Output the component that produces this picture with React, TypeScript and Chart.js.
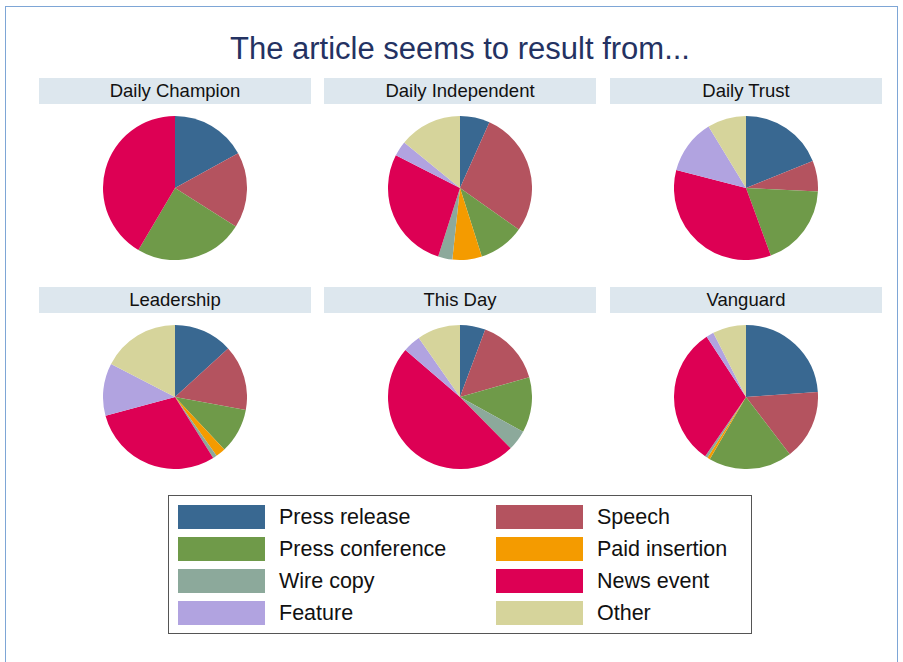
import React, { useEffect, useRef } from "react";
import { Chart, registerables } from "chart.js";

Chart.register(...registerables);

const title = "The article seems to result from...";
const sources = [
  "Press release",
  "Speech",
  "Press conference",
  "Paid insertion",
  "Wire copy",
  "News event",
  "Feature",
  "Other",
];
const sourceColors = [
  "#396891",
  "#b4535f",
  "#6f9a49",
  "#f49b00",
  "#8ca99b",
  "#dd0054",
  "#b1a3e0",
  "#d6d49b",
];
const papers = ["Daily Champion", "Daily Independent", "Daily Trust", "Leadership", "This Day", "Vanguard"];

// shares (%) in source order
const dailyChampion = [17, 17, 24.5, 0, 0, 41.5, 0, 0];
const dailyIndependent = [6.7, 28.1, 10.3, 6.6, 3.2, 27.6, 3.4, 14.1];
const dailyTrust = [18.9, 6.9, 18.6, 0, 0, 34.6, 12.3, 8.7];
const leadership = [13.2, 14.7, 10.1, 2.2, 0.9, 29.7, 11.8, 17.4];
const thisDay = [5.7, 14.9, 12.4, 0, 4.6, 48.7, 4.0, 9.7];
const vanguard = [23.9, 15.7, 18.8, 0.6, 0.6, 31.2, 1.7, 7.5];

const paperValues = [dailyChampion, dailyIndependent, dailyTrust, leadership, thisDay, vanguard];

const FONT = '"Liberation Sans", Arial, Helvetica, sans-serif';
const R = 72;
const colCenters = [175, 460, 746];
const barLefts = [39, 324, 610];
const barWidth = 272;
const barTops = [78, 287];
const rowCenters = [188, 397];

function Pie({ values, cx, cy }: { values: number[]; cx: number; cy: number }) {
  const ref = useRef<HTMLCanvasElement | null>(null);
  useEffect(() => {
    if (!ref.current) return;
    const chart = new Chart(ref.current, {
      type: "pie",
      data: {
        labels: sources,
        datasets: [
          {
            data: values,
            backgroundColor: sourceColors,
            borderWidth: 0,
          },
        ],
      },
      options: {
        responsive: false,
        maintainAspectRatio: false,
        animation: false,
        devicePixelRatio: 1,
        layout: { padding: 0 },
        plugins: { legend: { display: false }, tooltip: { enabled: false }, title: { display: false } },
      },
    });
    return () => chart.destroy();
  }, [values]);
  const size = R * 2;
  return (
    <canvas
      ref={ref}
      width={size}
      height={size}
      style={{ position: "absolute", left: cx - R, top: cy - R, width: size, height: size }}
    />
  );
}

export default function App() {
  const legendRows = [0, 1, 2, 3];
  return (
    <div
      style={{
        position: "absolute",
        left: 0,
        top: 0,
        width: 903,
        height: 662,
        background: "#ffffff",
        overflow: "hidden",
        fontFamily: FONT,
      }}
    >
      <div
        style={{
          position: "absolute",
          left: 5,
          top: 6,
          width: 893,
          height: 700,
          border: "1.5px solid #7ea6d6",
          boxSizing: "border-box",
        }}
      />
      <div
        style={{
          position: "absolute",
          left: 0,
          width: 920,
          top: 31,
          height: 36,
          lineHeight: "36px",
          textAlign: "center",
          fontSize: 31,
          color: "#243262",
          whiteSpace: "nowrap",
        }}
      >
        {title}
      </div>
      {papers.map((p, i) => {
        const col = i % 3;
        const row = Math.floor(i / 3);
        return (
          <div
            key={p}
            style={{
              position: "absolute",
              left: barLefts[col],
              top: barTops[row],
              width: barWidth,
              height: 26,
              lineHeight: "26px",
              background: "#dde7ee",
              textAlign: "center",
              fontSize: 18.5,
              color: "#111",
              whiteSpace: "nowrap",
            }}
          >
            {p}
          </div>
        );
      })}
      {paperValues.map((v, i) => (
        <Pie key={papers[i]} values={v} cx={colCenters[i % 3]} cy={rowCenters[Math.floor(i / 3)]} />
      ))}
      <div
        style={{
          position: "absolute",
          left: 168,
          top: 495,
          width: 584,
          height: 139,
          border: "1.5px solid #555",
          boxSizing: "border-box",
        }}
      />
      {legendRows.map((r) =>
        [0, 1].map((c) => {
          const idx = r * 2 + c;
          const swLeft = c === 0 ? 178 : 496;
          const txtLeft = c === 0 ? 279 : 597;
          const top = 505 + r * 32;
          return (
            <React.Fragment key={sources[idx]}>
              <div
                style={{
                  position: "absolute",
                  left: swLeft,
                  top,
                  width: 87,
                  height: 24,
                  background: sourceColors[idx],
                }}
              />
              <div
                style={{
                  position: "absolute",
                  left: txtLeft,
                  top: top - 2,
                  height: 28,
                  lineHeight: "28px",
                  fontSize: 21.5,
                  color: "#111",
                  whiteSpace: "nowrap",
                }}
              >
                {sources[idx]}
              </div>
            </React.Fragment>
          );
        })
      )}
    </div>
  );
}
